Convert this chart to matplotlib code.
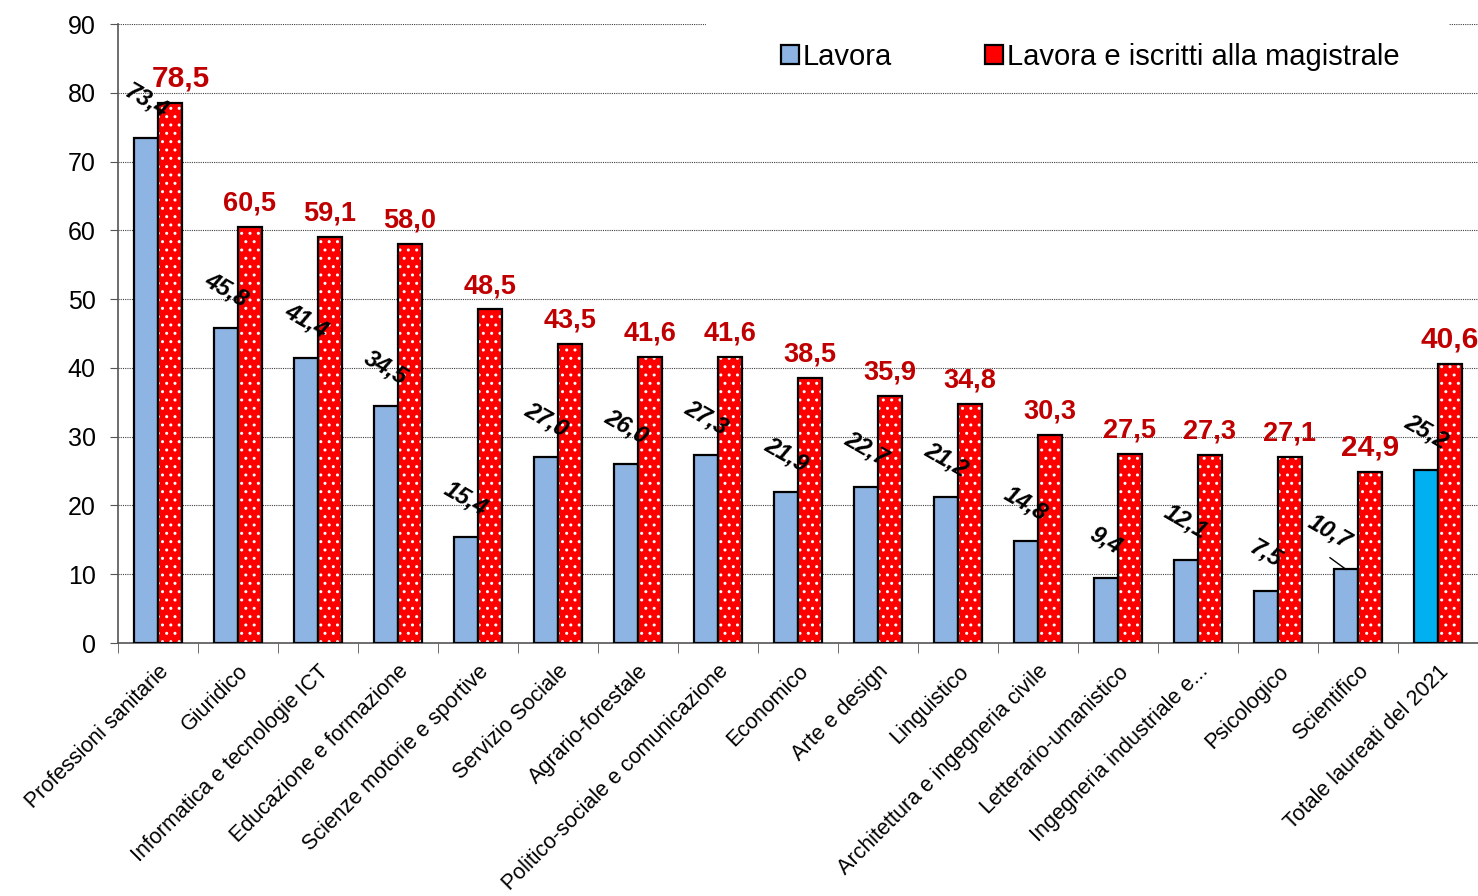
import matplotlib.pyplot as plt
import numpy as np

plt.rcParams['font.family'] = ['Liberation Sans', 'DejaVu Sans']

categories = ["Professioni sanitarie", "Giuridico", "Informatica e tecnologie ICT",
              "Educazione e formazione", "Scienze motorie e sportive", "Servizio Sociale",
              "Agrario-forestale", "Politico-sociale e comunicazione", "Economico",
              "Arte e design", "Linguistico", "Architettura e ingegneria civile",
              "Letterario-umanistico", "Ingegneria industriale e...", "Psicologico",
              "Scientifico", "Totale laureati del 2021"]
lavora = [73.4, 45.8, 41.4, 34.5, 15.4, 27.0, 26.0, 27.3, 21.9, 22.7, 21.2, 14.8, 9.4, 12.1, 7.5, 10.7, 25.2]
lavora_mag = [78.5, 60.5, 59.1, 58.0, 48.5, 43.5, 41.6, 41.6, 38.5, 35.9, 34.8, 30.3, 27.5, 27.3, 27.1, 24.9, 40.6]

def fmt(v):
    return f"{v:.1f}".replace('.', ',')

fig = plt.figure(figsize=(14.78, 8.96), dpi=100)
ax = fig.add_axes([118 / 1478, 1 - 643 / 896, 1360 / 1478, 619 / 896])

x = np.arange(len(categories))
w = 0.3
blue_cols = ['#8DB4E2'] * (len(categories) - 1) + ['#00B0F0']

ax.bar(x - w / 2, lavora, w, color=blue_cols, edgecolor='black', linewidth=1.6, zorder=3)
# barre rosse con puntini bianchi, poi il bordo nero sopra
ax.bar(x + w / 2, lavora_mag, w, color='#FF0000', edgecolor='white', hatch='..', linewidth=0, zorder=3)
ax.bar(x + w / 2, lavora_mag, w, fill=False, edgecolor='black', linewidth=1.6, zorder=4)

# legenda
h1 = plt.Rectangle((0, 0), 1, 1, facecolor='#8DB4E2', edgecolor='black', linewidth=1.6)
h2 = plt.Rectangle((0, 0), 1, 1, facecolor='#FF0000', edgecolor='black', linewidth=1.6)
leg = ax.legend([h1, h2], ["Lavora", "Lavora e iscritti alla magistrale"], ncol=2,
                loc='center left', bbox_to_anchor=(0.4875, 0.947), frameon=False, fontsize=21,
                handlelength=0.6, handleheight=0.6, handletextpad=0.15, columnspacing=3.2,
                borderpad=0, borderaxespad=0)
leg.set_zorder(10)
# striscia bianca che nasconde la griglia in alto dietro la legenda
ax.add_patch(plt.Rectangle((0.432, 0.975), 0.547, 0.05, transform=ax.transAxes,
                           facecolor='white', edgecolor='none', zorder=2, clip_on=False))

for i in range(len(categories)):
    big = i in (0, 15, 16)
    rdx = 0.14 if i == 0 else 0
    ax.text(x[i] + w / 2 + rdx, lavora_mag[i] + 1.5, fmt(lavora_mag[i]), ha='center', va='bottom',
            color='#C00000', fontweight='bold', fontsize=21.5 if big else 19.5, zorder=6)
    dx = -0.2 if i == 15 else 0
    ax.text(x[i] - w / 2 + dx, lavora[i] + 5.5, fmt(lavora[i]), ha='center', va='center',
            rotation=-30, fontstyle='italic', fontweight='bold', fontsize=17, color='black', zorder=6)

# linea guida per Scientifico
ax.plot([x[15] - w / 2 - 0.2, x[15] - w / 2], [12.4, 10.7], color='black', linewidth=1, zorder=6)

ax.set_xlim(-0.5, len(categories) - 0.5)
ax.set_ylim(0, 90)
ax.set_yticks(range(0, 91, 10))
ax.yaxis.grid(True, linestyle=(0, (1, 1)), color='#404040', linewidth=0.8, zorder=0)
ax.set_axisbelow(True)

ax.set_xticks(x)
ax.set_xticklabels(categories, rotation=45, ha='right', rotation_mode='anchor', fontsize=15.5)
ax.tick_params(axis='x', length=0, pad=13)
ax.set_xticks(np.arange(-0.5, len(categories), 1), minor=True)
ax.tick_params(axis='x', which='minor', length=7, direction='out', color='#555555')
ax.tick_params(axis='y', labelsize=18, length=6, pad=10, direction='out', color='#555555')

for s in ['top', 'right']:
    ax.spines[s].set_visible(False)
ax.spines['left'].set_color('#555555')
ax.spines['bottom'].set_color('#555555')
ax.spines['left'].set_linewidth(1.2)
ax.spines['bottom'].set_linewidth(1.2)

fig.savefig('out.png', dpi=100)
